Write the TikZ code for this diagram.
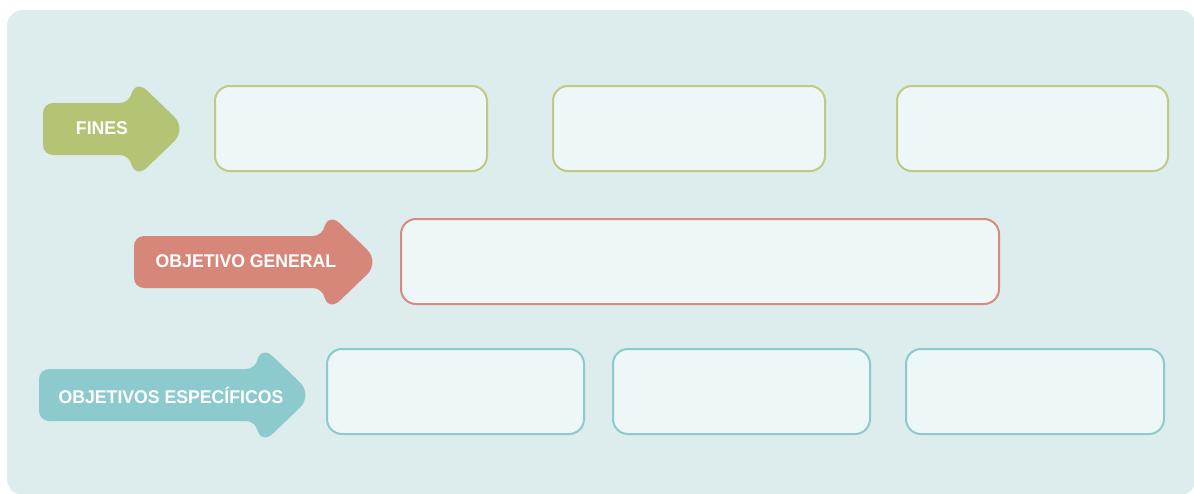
\documentclass[tikz,border=0pt]{standalone}
\usepackage{fontspec}
\setmainfont{Liberation Sans}
\usepackage{tikz}

\definecolor{fondo}{HTML}{DDECEC}
\definecolor{caja}{HTML}{EEF7F7}
\definecolor{verde}{HTML}{B3C474}
\definecolor{verdeborde}{HTML}{BFCB80}
\definecolor{rojo}{HTML}{D6877A}
\definecolor{rojoborde}{HTML}{D88A80}
\definecolor{turquesa}{HTML}{8CCACE}

\tikzset{
  cajabox/.style={draw, line width=1pt, fill=caja, rounded corners=7.5pt,
    inner sep=0pt, minimum height=42.5pt},
  rotulo/.style={text=white, font=\bfseries\fontsize{9.2}{10}\selectfont,
    inner sep=0pt, xscale=0.96}
}

% arrow: #1 left, #2 back of head, #3 centre y
\newcommand{\flechaforma}[3]{%
  [rounded corners=5pt] (#1,#3-26) -- (#2-4,#3-26)
  [rounded corners=9pt] -- (#2,#3-51) -- (#2+53,#3)
  -- (#2,#3+51) [rounded corners=5pt] -- (#2-4,#3+26) -- (#1,#3+26) -- cycle}

\begin{document}
\begin{tikzpicture}[x=0.5pt,y=-0.5pt]
\useasboundingbox (0,0) rectangle (1194,493);
% objects at depth 100:
\path[fill=fondo, rounded corners=8pt] (7,10) rectangle (1196,495);
% objects at depth 75:
\path[fill=verde] \flechaforma{43}{134}{129};
\path[fill=rojo] \flechaforma{134}{327}{262};
\path[fill=turquesa] \flechaforma{39}{260}{395};
% objects at depth 50:
\node[rotulo] (fines) at (102,128) {FINES};
\node[rotulo] (general) at (246,261) {OBJETIVO GENERAL};
\node[rotulo] (especificos) at (171,395) {OBJETIVOS ESPECÍFICOS};
\node[cajabox, draw=verdeborde, minimum width=136pt] (fin1) at (351,128.5) {};
\node[cajabox, draw=verdeborde, minimum width=136pt] (fin2) at (689,128.5) {};
\node[cajabox, draw=verdeborde, minimum width=135.5pt] (fin3) at (1032.5,128.5) {};
\node[cajabox, draw=rojoborde, minimum width=299pt] (obj) at (700,261.5) {};
\node[cajabox, draw=turquesa, minimum width=128.5pt] (esp1) at (455.5,391.5) {};
\node[cajabox, draw=turquesa, minimum width=128.5pt] (esp2) at (741.5,391.5) {};
\node[cajabox, draw=turquesa, minimum width=129pt] (esp3) at (1035,391.5) {};
\end{tikzpicture}
\end{document}
